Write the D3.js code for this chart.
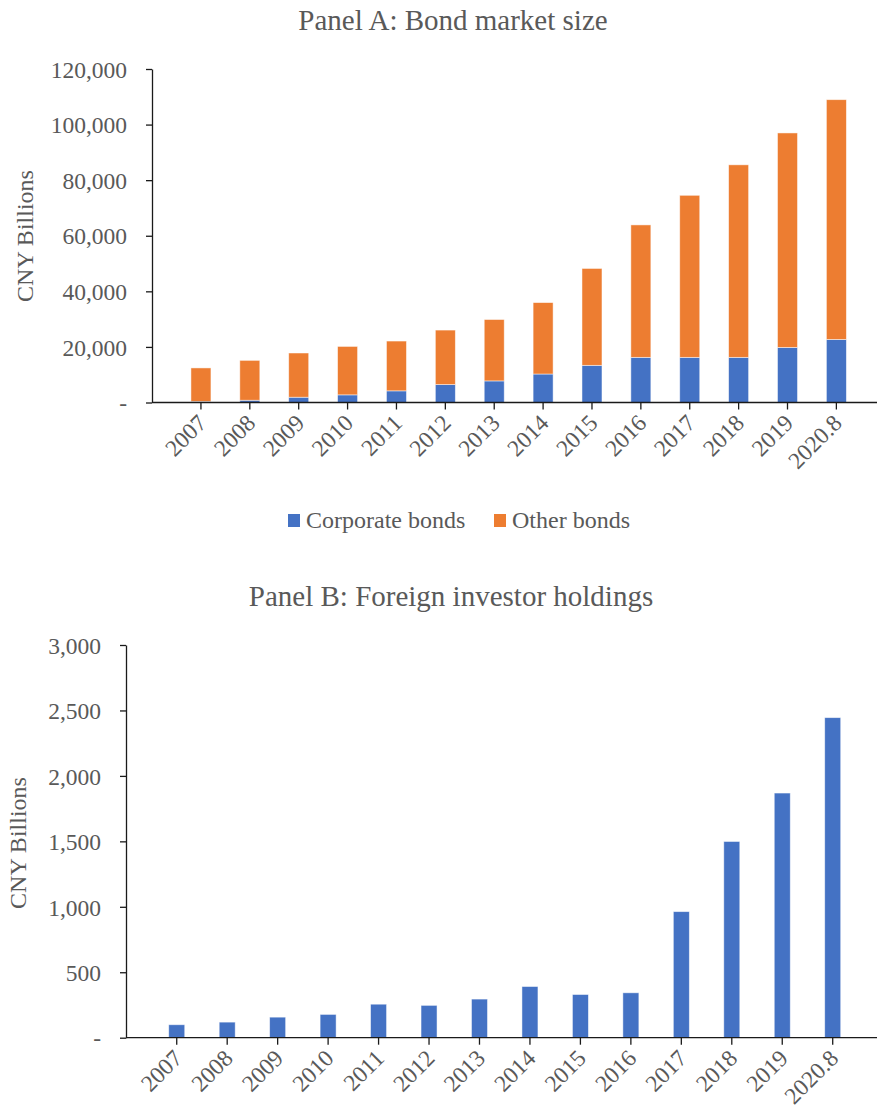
<!DOCTYPE html>
<html>
<head>
<meta charset="utf-8">
<script src="https://cdn.jsdelivr.net/npm/d3@7"></script>
<style>
  html, body { margin: 0; padding: 0; background: #fff; }
  svg text { font-family: "Liberation Serif", "Times New Roman", Times, "DejaVu Serif", serif !important; }
</style>
</head>
<body>
<svg id="chart" width="877" height="1112"></svg>
<script>
// Periods shared by both panels
const periods = ["2007", "2008", "2009", "2010", "2011", "2012", "2013",
                 "2014", "2015", "2016", "2017", "2018", "2019", "2020.8"];

// Panel A: outstanding bonds, CNY billions
const corporateBonds = [400, 820, 1900, 2750, 4190, 6450, 7770,
                        10250, 13370, 16240, 16240, 16240, 19820, 22690];
const totalBonds = [12440, 15160, 17810, 20180, 22110, 26060, 29860,
                    35950, 48240, 63900, 74550, 85520, 96990, 108960];
const otherBonds = totalBonds.map((t, i) => t - corporateBonds[i]);

// Panel B: foreign investor holdings, CNY billions
const foreignHoldings = [99, 119, 157, 178, 256, 247, 295,
                         391, 330, 343, 963, 1499, 1869, 2445];

const ticksA = [0, 20000, 40000, 60000, 80000, 100000, 120000];
const ticksB = [0, 500, 1000, 1500, 2000, 2500, 3000];

const seriesNames = ["Corporate bonds", "Other bonds"];
const colors = { corp: "#4472C4", other: "#ED7D31" };
const textColor = "#595959";

const svg = d3.select("#chart");
const fmt = v => v === 0 ? "-" : d3.format(",")(v);

function drawPanel(opts) {
  const g = svg.append("g");
  const x = d3.scaleBand()
    .domain(periods)
    .range(opts.xRange)
    .paddingInner(opts.pad)
    .paddingOuter(opts.pad / 2);
  const y = d3.scaleLinear().domain(opts.yDomain).range(opts.yRange);

  // title
  g.append("text")
    .attr("x", opts.titleX).attr("y", opts.titleY)
    .attr("text-anchor", "middle")
    .attr("font-size", 29).attr("fill", textColor)
    .text(opts.title);

  // y axis label
  g.append("text")
    .attr("transform", `translate(${opts.yLabelX},${opts.yLabelY}) rotate(-90)`)
    .attr("text-anchor", "middle")
    .attr("font-size", 24).attr("fill", textColor)
    .text("CNY Billions");

  // bars
  opts.drawBars(g, x, y);

  // y axis
  const yAxis = g.append("g")
    .attr("transform", `translate(${opts.axisX},0)`)
    .call(d3.axisLeft(y).tickValues(opts.yTicks).tickFormat(fmt)
      .tickSize(6).tickSizeOuter(0).tickPadding(19));
  yAxis.select(".domain").attr("stroke", "#1a1a1a").attr("stroke-width", 1.3);
  yAxis.selectAll(".tick line").attr("stroke", "#1a1a1a").attr("stroke-width", 1.3);
  yAxis.selectAll(".tick text")
    .attr("font-size", 23.5).attr("fill", textColor)
    .attr("dy", "0.35em");

  // x axis
  const base = y(0);
  g.append("line")
    .attr("x1", opts.axisX).attr("x2", 877)
    .attr("y1", base).attr("y2", base)
    .attr("stroke", "#1a1a1a").attr("stroke-width", 1.3);
  const xt = g.append("g").selectAll("g").data(periods).join("g")
    .attr("transform", d => `translate(${x(d) + x.bandwidth() / 2},${base})`);
  xt.append("line").attr("y1", 0).attr("y2", 7)
    .attr("stroke", "#1a1a1a").attr("stroke-width", 1.3);
  xt.append("text")
    .attr("transform", "translate(7,22) rotate(-45)")
    .attr("text-anchor", "end")
    .attr("font-size", 23.5).attr("fill", textColor)
    .text(d => d);

  return { x, y, g };
}

// Panel A: stacked bars
drawPanel({
  title: "Panel A: Bond market size",
  titleX: 453, titleY: 30,
  yLabelX: 33, yLabelY: 236,
  xRange: [176.5, 176.5 + 14 * 48.88], pad: 1 - 20 / 48.88,
  yDomain: [0, 120000], yRange: [402.5, 69], yTicks: ticksA,
  axisX: 152,
  drawBars: (g, x, y) => {
    const rows = periods.map((p, i) => ({ period: p, corp: corporateBonds[i], other: otherBonds[i] }));
    const stack = d3.stack().keys(["corp", "other"])(rows);
    g.append("g").selectAll("g").data(stack).join("g")
      .attr("fill", d => colors[d.key])
      .selectAll("rect").data(d => d).join("rect")
      .attr("x", d => x(d.data.period))
      .attr("width", x.bandwidth())
      .attr("y", d => y(d[1]))
      .attr("height", d => y(d[0]) - y(d[1]))
      .attr("stroke", "#ffffff").attr("stroke-opacity", 0.6).attr("stroke-width", 0.8);
  }
});

// Legend for panel A
const legendItems = [
  { name: seriesNames[0], color: colors.corp, x: 288 },
  { name: seriesNames[1], color: colors.other, x: 494 }
];
const lg = svg.append("g").selectAll("g").data(legendItems).join("g")
  .attr("transform", d => `translate(${d.x},514)`);
lg.append("rect").attr("width", 12).attr("height", 13).attr("fill", d => d.color);
lg.append("text").attr("x", 18).attr("y", 14)
  .attr("font-size", 24).attr("fill", textColor)
  .text(d => d.name);

// Panel B: simple bars
drawPanel({
  title: "Panel B: Foreign investor holdings",
  titleX: 451, titleY: 606,
  yLabelX: 26, yLabelY: 843,
  xRange: [151.5, 151.5 + 14 * 50.46], pad: 1 - 16 / 50.46,
  yDomain: [0, 3000], yRange: [1037.7, 645], yTicks: ticksB,
  axisX: 126,
  drawBars: (g, x, y) => {
    g.append("g").selectAll("rect").data(periods).join("rect")
      .attr("x", d => x(d))
      .attr("width", x.bandwidth())
      .attr("y", (d, i) => y(foreignHoldings[i]))
      .attr("height", (d, i) => y(0) - y(foreignHoldings[i]))
      .attr("fill", colors.corp)
      .attr("stroke", "#ffffff").attr("stroke-opacity", 0.6).attr("stroke-width", 0.8);
  }
});
</script>
</body>
</html>
